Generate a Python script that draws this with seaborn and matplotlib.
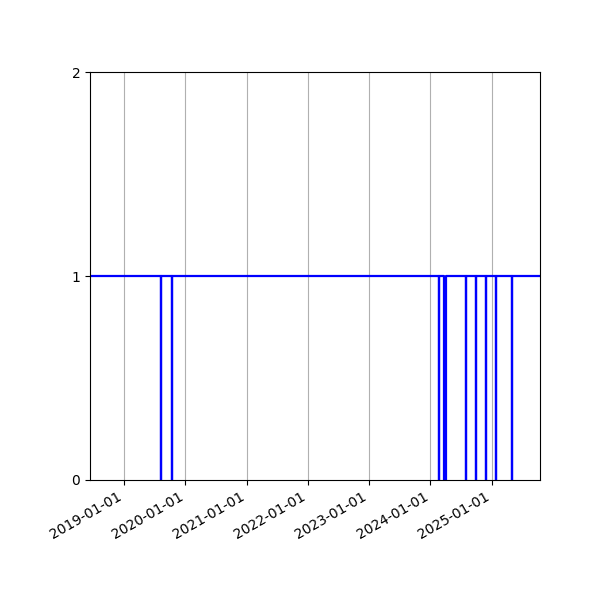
import pandas as pd
import matplotlib
matplotlib.use('Agg')
import matplotlib.pyplot as plt
import matplotlib.dates as mdates
import seaborn as sns

# status series: 1 = up, 0 = down (short outages)
start_date = '2018-06-12'
end_date = '2025-10-15'
down_start = ['2019-08-10', '2019-10-13', '2024-02-23', '2024-03-20', '2024-07-29',
              '2024-09-26', '2024-11-26', '2025-01-24', '2025-05-01']
down_end = ['2019-08-11', '2019-10-14', '2024-02-24', '2024-04-05', '2024-07-30',
            '2024-09-27', '2024-11-27', '2025-01-27', '2025-05-02']

dates = [start_date]
status = [1]
for s, e in zip(down_start, down_end):
  dates += [s, e]
  status += [0, 1]
dates.append(end_date)
status.append(1)
df = pd.DataFrame({'date': pd.to_datetime(dates), 'status': status})

fig, ax = plt.subplots(figsize=(6, 6), dpi=100)
sns.lineplot(data=df, x='date', y='status', drawstyle='steps-post', color='blue',
             linewidth=1.6, ax=ax)
ax.set_xlim(df['date'].min(), df['date'].max())
ax.set_ylim(0, 2)
ax.set_yticks([0, 1, 2])
ax.set_xlabel('')
ax.set_ylabel('')
ax.xaxis.set_major_locator(mdates.YearLocator())
ax.xaxis.set_major_formatter(mdates.DateFormatter('%Y-%m-%d'))
ax.grid(axis='x')
fig.autofmt_xdate()
fig.subplots_adjust(left=0.15, right=0.9, top=0.88, bottom=0.2)
fig.savefig('out.png')
